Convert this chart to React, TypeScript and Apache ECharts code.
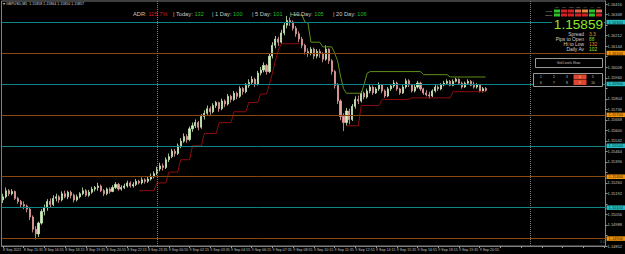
import React, { useEffect, useRef } from "react";
import * as echarts from "echarts";

const symbolHeader = "▾ GBPUSD,M5  1.15858 1.15864 1.15850 1.15857";

const timeLabels = [
  "8 Sep 2022", "8 Sep 15:35", "8 Sep 16:55", "8 Sep 18:15", "8 Sep 19:35", "8 Sep 20:55",
  "8 Sep 22:15", "8 Sep 23:35", "9 Sep 00:55", "9 Sep 02:15", "9 Sep 03:35", "9 Sep 04:55",
  "9 Sep 06:15", "9 Sep 07:35", "9 Sep 08:55", "9 Sep 10:15", "9 Sep 11:35", "9 Sep 12:55",
  "9 Sep 14:15", "9 Sep 15:35", "9 Sep 16:55", "9 Sep 18:15", "9 Sep 19:35", "9 Sep 20:55",
];

// [open, close, low, high]
const candles: number[][] = [
  [1.1515, 1.1517, 1.1513, 1.1519], [1.1517, 1.1521, 1.1516, 1.1523], [1.1521, 1.1519, 1.15175, 1.1522],
  [1.1519, 1.15205, 1.1518, 1.1522], [1.15205, 1.1516, 1.1515, 1.1521], [1.1516, 1.1514, 1.15125, 1.1517],
  [1.1514, 1.1512, 1.151, 1.1515], [1.1512, 1.1511, 1.1509, 1.1514], [1.1511, 1.1509, 1.1507, 1.1512],
  [1.1509, 1.1504, 1.1502, 1.151], [1.1504, 1.1496, 1.1494, 1.1505], [1.1496, 1.1493, 1.14895, 1.1498],
  [1.1493, 1.15, 1.1491, 1.1501], [1.15, 1.15075, 1.1499, 1.1509], [1.15075, 1.151, 1.1505, 1.1512],
  [1.151, 1.1514, 1.1508, 1.15155], [1.1514, 1.1512, 1.151, 1.1516], [1.1512, 1.1516, 1.1511, 1.1518],
  [1.1516, 1.1517, 1.1514, 1.1519], [1.1517, 1.1515, 1.1513, 1.1518], [1.1515, 1.1519, 1.1514, 1.15205],
  [1.1519, 1.1517, 1.1516, 1.1521], [1.1517, 1.152, 1.15155, 1.1521], [1.152, 1.1518, 1.1516, 1.1521],
  [1.1518, 1.1515, 1.15135, 1.1519], [1.1515, 1.1517, 1.1514, 1.15185], [1.1517, 1.1519, 1.1516, 1.152],
  [1.1519, 1.1521, 1.1518, 1.1523], [1.1521, 1.1518, 1.1517, 1.1522], [1.1518, 1.152, 1.1517, 1.15215],
  [1.152, 1.1522, 1.1519, 1.15235], [1.1522, 1.1523, 1.15205, 1.1524], [1.1523, 1.1524, 1.1521, 1.1526],
  [1.1524, 1.1521, 1.152, 1.1525], [1.1521, 1.1519, 1.15175, 1.1522], [1.1519, 1.1522, 1.1518, 1.1523],
  [1.1522, 1.15205, 1.1519, 1.1523], [1.15205, 1.1523, 1.152, 1.15245], [1.1523, 1.1525, 1.1522, 1.15265],
  [1.1525, 1.1522, 1.1521, 1.1526], [1.1522, 1.1523, 1.1521, 1.15245], [1.1523, 1.1524, 1.1522, 1.15255],
  [1.1524, 1.1526, 1.1523, 1.15275], [1.1526, 1.1524, 1.1523, 1.1527], [1.1524, 1.1525, 1.1523, 1.15265],
  [1.1525, 1.1527, 1.1524, 1.15285], [1.1527, 1.1526, 1.1525, 1.1528], [1.1526, 1.1528, 1.1525, 1.15295],
  [1.1528, 1.1527, 1.15255, 1.1529], [1.1527, 1.15285, 1.1526, 1.153], [1.15285, 1.153, 1.15275, 1.1532],
  [1.153, 1.1532, 1.1529, 1.15335], [1.1532, 1.1535, 1.1531, 1.15365], [1.1535, 1.1537, 1.15335, 1.1539],
  [1.1537, 1.1536, 1.1534, 1.15385], [1.1536, 1.1541, 1.1535, 1.15425], [1.1541, 1.1543, 1.15395, 1.1545],
  [1.1543, 1.15465, 1.1542, 1.1548], [1.15465, 1.1545, 1.1543, 1.1548], [1.1545, 1.155, 1.1544, 1.15515],
  [1.155, 1.1553, 1.15485, 1.1555], [1.1553, 1.1556, 1.1552, 1.1558], [1.1556, 1.1554, 1.1552, 1.15575],
  [1.1554, 1.1561, 1.1553, 1.15625], [1.1561, 1.1563, 1.1559, 1.1565], [1.1563, 1.1565, 1.15615, 1.1567],
  [1.1565, 1.1562, 1.156, 1.1566], [1.1562, 1.1569, 1.1561, 1.15705], [1.1569, 1.1571, 1.1567, 1.1573],
  [1.1571, 1.1574, 1.157, 1.1576], [1.1574, 1.1572, 1.157, 1.15755], [1.1572, 1.1576, 1.1571, 1.15775],
  [1.1576, 1.1578, 1.15745, 1.1579], [1.1578, 1.1574, 1.1572, 1.15785], [1.1574, 1.1579, 1.1573, 1.15805],
  [1.1579, 1.1577, 1.1575, 1.158], [1.1577, 1.1582, 1.1576, 1.15835], [1.1582, 1.158, 1.1578, 1.1583],
  [1.158, 1.1584, 1.1579, 1.15855], [1.1584, 1.1582, 1.158, 1.1585], [1.1582, 1.1587, 1.1581, 1.15885],
  [1.1587, 1.1585, 1.1583, 1.1588], [1.1585, 1.1589, 1.1584, 1.15905], [1.1589, 1.1591, 1.15875, 1.1593],
  [1.1591, 1.1593, 1.15895, 1.1595], [1.1593, 1.159, 1.1588, 1.1594], [1.159, 1.1597, 1.1589, 1.15985],
  [1.1597, 1.1599, 1.15955, 1.1601], [1.1599, 1.1602, 1.15975, 1.1604], [1.1602, 1.1598, 1.1596, 1.1603],
  [1.1598, 1.1608, 1.1597, 1.16095], [1.1608, 1.1615, 1.16065, 1.1617], [1.1615, 1.1619, 1.1613, 1.1621],
  [1.1619, 1.1617, 1.16145, 1.16205], [1.1617, 1.1623, 1.1616, 1.1625], [1.1623, 1.1628, 1.16215, 1.163],
  [1.1628, 1.1631, 1.1626, 1.1634], [1.1631, 1.163, 1.16275, 1.1633], [1.163, 1.1626, 1.16245, 1.1631],
  [1.1626, 1.16225, 1.16205, 1.16275], [1.16225, 1.1619, 1.1617, 1.1624], [1.1619, 1.1615, 1.1613, 1.16205],
  [1.1615, 1.1611, 1.1609, 1.1616], [1.1611, 1.161, 1.16075, 1.1613], [1.161, 1.16125, 1.16085, 1.1614],
  [1.16125, 1.1608, 1.1606, 1.16135], [1.1608, 1.1611, 1.16065, 1.16125], [1.1611, 1.16095, 1.1607, 1.16125],
  [1.16095, 1.1606, 1.1604, 1.16105], [1.1606, 1.16125, 1.1605, 1.1615], [1.16125, 1.1605, 1.1603, 1.1613],
  [1.1605, 1.1598, 1.1596, 1.1606], [1.1598, 1.1589, 1.1587, 1.1599], [1.1589, 1.1579, 1.1577, 1.15905],
  [1.1579, 1.1569, 1.15665, 1.158], [1.1569, 1.1565, 1.15595, 1.1571], [1.1565, 1.15725, 1.1563, 1.15745],
  [1.15725, 1.1567, 1.1564, 1.1574], [1.1567, 1.15755, 1.1566, 1.1577], [1.15755, 1.158, 1.1574, 1.1582],
  [1.158, 1.1579, 1.1577, 1.15825], [1.1579, 1.1584, 1.1578, 1.15855], [1.1584, 1.15815, 1.158, 1.1585],
  [1.15815, 1.15855, 1.15805, 1.1587], [1.15855, 1.1588, 1.1584, 1.15895], [1.1588, 1.15842, 1.1583, 1.1589],
  [1.15842, 1.15868, 1.15835, 1.1588], [1.15868, 1.15894, 1.15855, 1.1591], [1.15894, 1.15855, 1.1584, 1.159],
  [1.15855, 1.15822, 1.1581, 1.15865], [1.15822, 1.15868, 1.15815, 1.1588], [1.15868, 1.15887, 1.15855, 1.159],
  [1.15887, 1.15906, 1.15875, 1.15925], [1.15906, 1.15868, 1.15855, 1.15915], [1.15868, 1.15842, 1.1583, 1.15875],
  [1.15842, 1.1588, 1.15835, 1.15895], [1.1588, 1.1592, 1.1587, 1.15935], [1.1592, 1.15894, 1.1588, 1.1593],
  [1.15894, 1.15855, 1.15845, 1.159], [1.15855, 1.1588, 1.15845, 1.15895], [1.1588, 1.15906, 1.1587, 1.1592],
  [1.15906, 1.15868, 1.15855, 1.15915], [1.15868, 1.15842, 1.1583, 1.15875], [1.15842, 1.1583, 1.1582, 1.1586],
  [1.1583, 1.15822, 1.15805, 1.1585], [1.15822, 1.15855, 1.15815, 1.15865], [1.15855, 1.1588, 1.15845, 1.15895],
  [1.1588, 1.15868, 1.15855, 1.1589], [1.15868, 1.15894, 1.1586, 1.15905], [1.15894, 1.15905, 1.15885, 1.1592],
  [1.15905, 1.15917, 1.15895, 1.1593], [1.15917, 1.15891, 1.15885, 1.15925], [1.15891, 1.15917, 1.15885, 1.1593],
  [1.15917, 1.1593, 1.1591, 1.1594], [1.1593, 1.15905, 1.159, 1.15935], [1.15905, 1.1588, 1.1587, 1.15915],
  [1.1588, 1.15905, 1.15875, 1.15915], [1.15905, 1.15917, 1.159, 1.1593], [1.15917, 1.15891, 1.15885, 1.15925],
  [1.15891, 1.1588, 1.1587, 1.15915], [1.1588, 1.15894, 1.1587, 1.15905], [1.15894, 1.15855, 1.15845, 1.159],
  [1.15855, 1.1587, 1.15845, 1.1588], [1.1587, 1.15859, 1.1585, 1.1588],
];

// trailing stop lines: [bar index, price]
const greenStop: number[][] = [
  [97, 1.1635], [99, 1.1635], [100, 1.16345], [101, 1.16345], [102, 1.163], [103, 1.16295],
  [104, 1.1617], [107, 1.1617], [108, 1.1614], [111, 1.1614], [112, 1.161], [113, 1.1605],
  [114, 1.1595], [115, 1.1587], [116, 1.1584], [121, 1.1584], [122, 1.159], [123, 1.1597],
  [124, 1.1598], [141, 1.1598], [142, 1.1596], [150, 1.1596], [151, 1.15945], [163, 1.15945],
];
const redStopUp: number[][] = [
  [46, 1.1521], [51, 1.1521], [52, 1.1526], [55, 1.1526], [56, 1.1533], [59, 1.1533],
  [60, 1.1541], [63, 1.1541], [64, 1.155], [67, 1.155], [68, 1.1558], [72, 1.1558],
  [73, 1.1565], [77, 1.1565], [78, 1.1572], [82, 1.1572], [83, 1.1578], [86, 1.1578],
  [87, 1.15835], [89, 1.15835], [90, 1.159], [91, 1.1597], [92, 1.1605], [93, 1.1612],
  [94, 1.1616], [100, 1.1616],
];
const redStopRange: number[][] = [
  [116, 1.1563], [120, 1.1563], [121, 1.1576], [127, 1.1576], [128, 1.158], [137, 1.158],
  [138, 1.1581], [151, 1.1581], [152, 1.1585], [163, 1.1585],
];

const tealLevels = [1.163, 1.159, 1.155, 1.151];
const orangeLevels = [1.161, 1.157, 1.153, 1.149];
const lastPrice = 1.15859;
const daySeparators = ["52", "178"];

const adrLabels = ["ADR:", "| Today:", "| 1 Day:", "| 5 Day:", "| 10 Day:", "| 20 Day:"];
const adrValues = ["125.7%", "132", "100", "101", "105", "106"];

const statLabels = ["Spread", "Pips to Open", "Hi to Low", "Daily Av"];
const statValues = ["3.3", "88", "132", "102"];

const mtfHeaders = ["M1", "M5", "M15", "M30", "H1", "H4", "D1"];
const mtfRowA = ["#2bc42b", "#d42222", "#d42222", "#e0684f", "#e58a3c", "#2bc42b", "#e0684f"];
const mtfRowB = ["#2bc42b", "#d42222", "#d42222", "#d42222", "#d42222", "#2bc42b", "#d42222"];

const gridButtons = ["1", "2", "3", "4", "5", "6", "7", "8", "9", "10"];
const activeButtons = ["4", "9"];

const categories = Array.from({ length: 204 }, (_, i) => String(i));

const FONT = "Liberation Sans, Arial, sans-serif";
const TEAL = "#0f8585";
const ORANGE = "#8a4810";
const TEAL_BOX = "#27bcc4";
const ORANGE_BOX = "#f0960f";

function txt(x: number, y: number, text: string, fill: string, fontSize: number, align = "left", extra: any = {}) {
  return {
    type: "text",
    x,
    y,
    z: 100,
    silent: true,
    style: {
      text,
      fill,
      fontSize,
      fontFamily: FONT,
      align,
      verticalAlign: "middle",
      textAlign: align,
      textVerticalAlign: "middle",
      ...extra,
    },
  };
}

export default function App() {
  const ref = useRef<HTMLDivElement>(null);

  useEffect(() => {
    document.body.style.margin = "0";
    document.body.style.background = "#000";
    if (!ref.current) return;
    const chart = echarts.init(ref.current, null, { renderer: "svg" });

    const graphic: any[] = [];
    graphic.push(txt(3, 4, symbolHeader, "#d8d8d8", 3.6));

    const adrX = [133, 173, 212, 252, 290, 333];
    adrLabels.forEach((l, i) => {
      const vColor = i === 0 ? "#d81818" : "#22b822";
      graphic.push(
        txt(adrX[i], 14, `{l|${l} }{v|${adrValues[i]}}`, "#c8c8c8", 5.7, "left", {
          rich: {
            l: { fill: "#c8c8c8", color: "#c8c8c8", fontSize: 5.7, fontFamily: FONT },
            v: { fill: vColor, color: vColor, fontSize: 5.7, fontFamily: FONT },
          },
        })
      );
    });

    // multi-timeframe table
    mtfHeaders.forEach((h, i) => {
      const cx = 554 + i * 7;
      graphic.push(txt(cx + 3, 7.3, h, "#a0a0a0", 2.4, "center"));
      graphic.push({ type: "rect", z: 100, silent: true, shape: { x: cx, y: 9.5, width: 6, height: 3 }, style: { fill: mtfRowA[i] } });
      graphic.push({ type: "rect", z: 100, silent: true, shape: { x: cx, y: 13.5, width: 6, height: 3 }, style: { fill: mtfRowB[i] } });
    });
    graphic.push(txt(552, 11, "Trend", "#c0c0c0", 2.4, "right"));
    graphic.push(txt(552, 15, "Signal", "#c0c0c0", 2.4, "right"));

    graphic.push({
      type: "rect", z: 99, silent: true,
      shape: { x: 552, y: 18, width: 52, height: 13 },
      style: { fill: "#000" },
    });
    graphic.push(txt(603, 24.2, String(lastPrice), "#8ee82a", 13.6, "right"));

    const statColors = ["#e8901c", "#7ccf2c", "#e8901c", "#8ee82a"];
    statLabels.forEach((l, i) => {
      const y = 34.3 + i * 5;
      graphic.push(txt(584, y, l, "#d0d0d0", 4.9, "right"));
      graphic.push(txt(589, y, statValues[i], statColors[i], 4.9));
    });

    graphic.push({
      type: "rect", z: 100, silent: true,
      shape: { x: 535.5, y: 58.5, width: 67, height: 9 },
      style: { fill: "#000", stroke: "#9a9a9a", lineWidth: 1 },
    });
    graphic.push({ ...txt(568.5, 63, "Grid Levels Show", "#c8c8c8", 3, "center"), z: 101 });

    graphic.push({
      type: "rect", z: 100, silent: true,
      shape: { x: 533.5, y: 73.5, width: 69, height: 13 },
      style: { fill: "#000", stroke: "#9a9a9a", lineWidth: 1 },
    });
    gridButtons.forEach((b, i) => {
      const col = i % 5;
      const row = Math.floor(i / 5);
      const cx = 541 + col * 13;
      const cy = 77 + row * 5.5;
      if (activeButtons.includes(b)) {
        graphic.push({
          type: "rect", z: 101, silent: true,
          shape: { x: cx - 6.5, y: cy - 2.5, width: 13, height: 5 },
          style: { fill: "#e0452e" },
        });
      }
      graphic.push({ ...txt(cx, cy, b, "#d0d0d0", 3.2, "center"), z: 102 });
    });

    graphic.push(txt(600, 241.5, "0 0", "#2a8f8f", 3.5));

    const levelData: any[] = [];
    tealLevels.forEach((v) =>
      levelData.push({ yAxis: v, lineStyle: { color: TEAL }, label: { backgroundColor: TEAL_BOX, color: "#003a3a" } })
    );
    orangeLevels.forEach((v) =>
      levelData.push({ yAxis: v, lineStyle: { color: ORANGE }, label: { backgroundColor: ORANGE_BOX, color: "#3a1e00" } })
    );
    levelData.push({ yAxis: lastPrice, lineStyle: { opacity: 0 }, label: { backgroundColor: "#ffffff", color: "#000" } });
    daySeparators.forEach((d) =>
      levelData.push({ xAxis: d, lineStyle: { color: "#7a7a7a", type: "dotted" }, label: { show: false } })
    );

    const boxed = [...tealLevels, ...orangeLevels, lastPrice];

    const option: any = {
      animation: false,
      backgroundColor: "#000",
      textStyle: { fontFamily: FONT },
      grid: { left: 1, top: 1, right: 14, bottom: 8, show: true, borderColor: "#7f7f7f", borderWidth: 1, backgroundColor: "#000" },
      xAxis: {
        type: "category",
        data: categories,
        boundaryGap: true,
        axisLine: { show: true, lineStyle: { color: "#7f7f7f" } },
        axisTick: { show: true, alignWithLabel: true, interval: 6, length: 2, lineStyle: { color: "#9a9a9a" } },
        axisLabel: {
          interval: 6,
          align: "left",
          margin: 2,
          fontSize: 3.6,
          color: "#c0c0c0",
          formatter: (_v: string, idx: number) => timeLabels[idx / 7] ?? "",
        },
        splitLine: { show: false },
      },
      yAxis: {
        type: "value",
        position: "right",
        min: 1.14852,
        max: 1.164364,
        interval: 0.00068,
        splitLine: { show: false },
        axisLine: { show: true, lineStyle: { color: "#7f7f7f" } },
        axisTick: { show: true, length: 2, lineStyle: { color: "#9a9a9a" } },
        axisLabel: {
          fontSize: 4,
          margin: 2,
          color: "#c0c0c0",
          showMaxLabel: false,
          formatter: (v: number) =>
            boxed.some((b) => Math.abs(b - v) < 0.0003) ? "" : v.toFixed(5),
        },
      },
      series: [
        {
          type: "line",
          name: "levels",
          data: [],
          z: 1,
          silent: true,
          markLine: {
            silent: true,
            symbol: ["none", "none"],
            precision: 5,
            lineStyle: { width: 1, type: "solid" },
            label: {
              show: true,
              position: "end",
              distance: 1,
              fontSize: 4,
              lineHeight: 4,
              padding: [0.5, 2, 0, 2],
              formatter: (p: any) => Number(p.value).toFixed(5),
            },
            data: levelData,
          },
        },
        {
          type: "candlestick",
          name: "GBPUSD",
          data: candles,
          z: 2,
          barWidth: 1.6,
          itemStyle: {
            color: "#cdeeb8",
            color0: "#e9a2a2",
            borderColor: "#cdeeb8",
            borderColor0: "#e9a2a2",
            borderWidth: 0.8,
          },
        },
        {
          type: "line",
          name: "green stop",
          data: greenStop,
          z: 3,
          showSymbol: false,
          lineStyle: { color: "#5e8f18", width: 1 },
        },
        {
          type: "line",
          name: "red stop",
          data: redStopUp,
          z: 3,
          showSymbol: false,
          lineStyle: { color: "#8e0c0c", width: 1 },
        },
        {
          type: "line",
          name: "red stop 2",
          data: redStopRange,
          z: 3,
          showSymbol: false,
          lineStyle: { color: "#8e0c0c", width: 1 },
        },
      ],
      graphic: { elements: graphic },
    };

    chart.setOption(option);
    return () => chart.dispose();
  }, []);

  return <div ref={ref} style={{ width: 625, height: 254, background: "#000" }} />;
}
